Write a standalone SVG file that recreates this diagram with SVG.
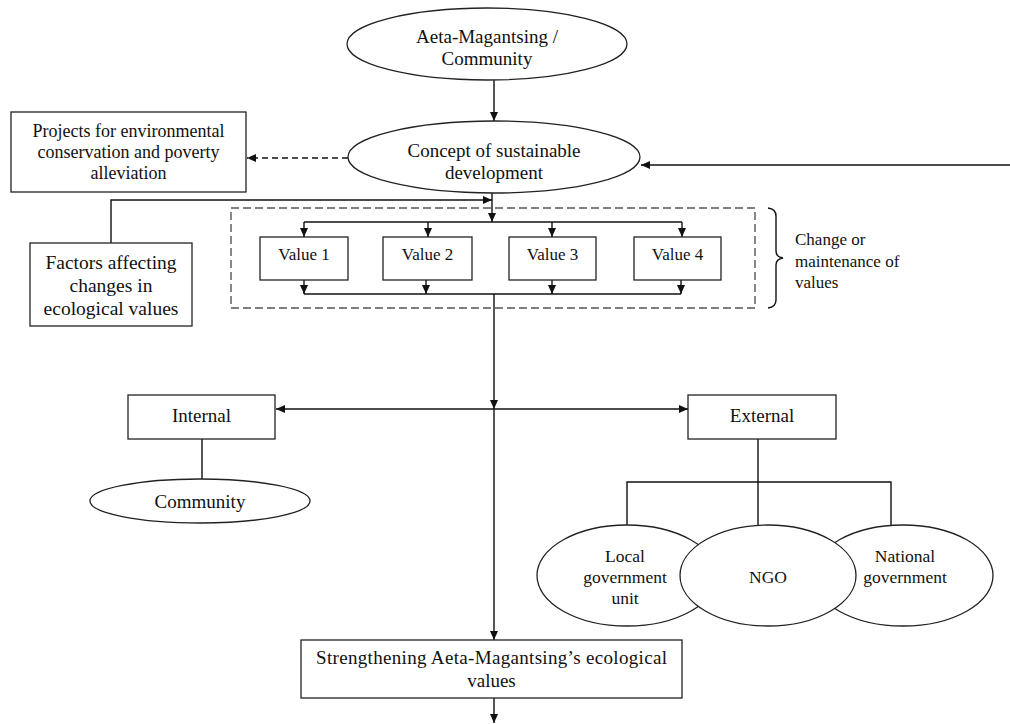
<svg xmlns="http://www.w3.org/2000/svg" width="1010" height="724" viewBox="0 0 1010 724">
<style>
  .shape { fill: #fff; stroke: #222; stroke-width: 1.3; }
  .line { fill: none; stroke: #111; stroke-width: 1.4; }
  .dash { fill: none; stroke: #111; stroke-width: 1.4; stroke-dasharray: 6 4; }
  .dbox { fill: none; stroke: #555; stroke-width: 1.4; stroke-dasharray: 8 4; }
  text { font-family: "Liberation Serif", "Times New Roman", serif; fill: #111; text-anchor: middle; }
  .t19 { font-size: 19px; }
  .t18 { font-size: 18px; }
  .t17 { font-size: 17px; }
  .left { text-anchor: start; }
</style>
<defs>
  <marker id="arr" markerUnits="userSpaceOnUse" markerWidth="10" markerHeight="8" refX="9" refY="4" orient="auto">
    <path d="M0,0 L9,4 L0,8 z" fill="#111"/>
  </marker>
</defs>
<rect width="1010" height="724" fill="#fff"/>

<g id="connectors">
  <line class="line" x1="494" y1="80" x2="494" y2="121" marker-end="url(#arr)"/>
  <line class="dash" x1="348" y1="158" x2="247" y2="158" marker-end="url(#arr)"/>
  <line class="line" x1="1010" y1="165" x2="641" y2="165" marker-end="url(#arr)"/>
  <polyline class="line" points="111,243 111,200 492,200" marker-end="url(#arr)"/>
  <line class="line" x1="492" y1="193" x2="492" y2="222" marker-end="url(#arr)"/>
  <line class="line" x1="304" y1="222" x2="682" y2="222"/>
  <line class="line" x1="304" y1="222" x2="304" y2="237" marker-end="url(#arr)"/>
  <line class="line" x1="428" y1="222" x2="428" y2="237" marker-end="url(#arr)"/>
  <line class="line" x1="552" y1="222" x2="552" y2="237" marker-end="url(#arr)"/>
  <line class="line" x1="682" y1="222" x2="682" y2="237" marker-end="url(#arr)"/>
  <line class="line" x1="304" y1="280" x2="304" y2="294" marker-end="url(#arr)"/>
  <line class="line" x1="426" y1="280" x2="426" y2="294" marker-end="url(#arr)"/>
  <line class="line" x1="552" y1="280" x2="552" y2="294" marker-end="url(#arr)"/>
  <line class="line" x1="681" y1="280" x2="681" y2="294" marker-end="url(#arr)"/>
  <line class="line" x1="304" y1="294" x2="681" y2="294"/>
  <line class="line" x1="494" y1="294" x2="494" y2="409" marker-end="url(#arr)"/>
  <line class="line" x1="494" y1="409" x2="494" y2="640" marker-end="url(#arr)"/>
  <line class="line" x1="494" y1="409" x2="276" y2="409" marker-end="url(#arr)"/>
  <line class="line" x1="494" y1="409" x2="688" y2="409" marker-end="url(#arr)"/>
  <line class="line" x1="202" y1="439" x2="202" y2="479"/>
  <line class="line" x1="758" y1="439" x2="758" y2="525"/>
  <polyline class="line" points="627,525 627,482 891,482 891,525"/>
  <line class="line" x1="494" y1="698" x2="494" y2="723" marker-end="url(#arr)"/>
</g>

<g id="group-values">
  <rect class="dbox" x="231" y="208" width="524" height="100"/>
  <path class="line" d="M768,208 Q776,209 776,216 L776,251 Q776,257 783,258 Q776,259 776,265 L776,300 Q776,307 768,308"/>
  <text class="t17 left" x="795" y="245">Change or</text>
  <text class="t17 left" x="795" y="267">maintenance of</text>
  <text class="t17 left" x="795" y="288">values</text>
</g>

<g id="node-aeta">
  <ellipse class="shape" cx="487" cy="44" rx="140" ry="36"/>
  <text class="t19" x="487" y="43">Aeta-Magantsing /</text>
  <text class="t19" x="487" y="65">Community</text>
</g>

<g id="node-concept">
  <ellipse class="shape" cx="494" cy="157" rx="146" ry="36"/>
  <text class="t19" x="494" y="157">Concept of sustainable</text>
  <text class="t19" x="494" y="179">development</text>
</g>

<g id="node-projects">
  <rect class="shape" x="11" y="112" width="235" height="80"/>
  <text class="t18" x="128.5" y="137">Projects for environmental</text>
  <text class="t18" x="128.5" y="158">conservation and poverty</text>
  <text class="t18" x="128.5" y="179">alleviation</text>
</g>

<g id="node-factors">
  <rect class="shape" x="30" y="243" width="162" height="83"/>
  <text style="font-size:19.5px" x="111" y="269">Factors affecting</text>
  <text style="font-size:19.5px" x="111" y="292">changes in</text>
  <text style="font-size:19.5px" x="111" y="315">ecological values</text>
</g>

<g id="node-value1">
  <rect class="shape" x="260" y="237" width="88" height="43"/>
  <text class="t17" x="304" y="260">Value 1</text>
</g>
<g id="node-value2">
  <rect class="shape" x="383" y="237" width="89" height="43"/>
  <text class="t17" x="427.5" y="260">Value 2</text>
</g>
<g id="node-value3">
  <rect class="shape" x="509" y="237" width="87" height="43"/>
  <text class="t17" x="552.5" y="260">Value 3</text>
</g>
<g id="node-value4">
  <rect class="shape" x="634" y="237" width="87" height="43"/>
  <text class="t17" x="677.5" y="260">Value 4</text>
</g>

<g id="node-internal">
  <rect class="shape" x="128" y="395" width="147" height="44"/>
  <text class="t19" x="201.5" y="422">Internal</text>
</g>

<g id="node-community">
  <ellipse class="shape" cx="200" cy="501" rx="110" ry="22"/>
  <text class="t19" x="200" y="508">Community</text>
</g>

<g id="node-external">
  <rect class="shape" x="688" y="395" width="148" height="44"/>
  <text class="t19" x="762" y="422">External</text>
</g>

<g id="node-lgu">
  <ellipse class="shape" cx="627" cy="575.5" rx="90" ry="50.5"/>
  <text style="font-size:17.5px" x="625" y="562">Local</text>
  <text style="font-size:17.5px" x="625" y="583">government</text>
  <text style="font-size:17.5px" x="625" y="604">unit</text>
</g>

<g id="node-national">
  <ellipse class="shape" cx="903" cy="575.5" rx="90" ry="50.5"/>
  <text style="font-size:17.5px" x="905" y="562">National</text>
  <text style="font-size:17.5px" x="905" y="583">government</text>
</g>

<g id="node-ngo">
  <ellipse class="shape" cx="768" cy="575.5" rx="88" ry="50.5"/>
  <text style="font-size:17.5px" x="768" y="583">NGO</text>
</g>

<g id="node-strengthening">
  <rect class="shape" x="301" y="640" width="381" height="58"/>
  <text class="t19" x="491.5" y="664" textLength="351" lengthAdjust="spacing">Strengthening Aeta-Magantsing’s ecological</text>
  <text class="t19" x="491.5" y="687">values</text>
</g>
</svg>
